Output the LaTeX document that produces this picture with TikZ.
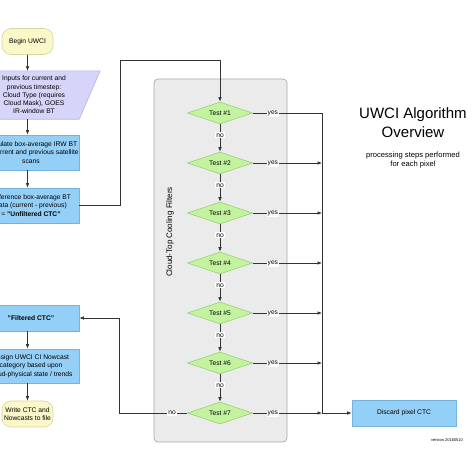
\documentclass[tikz,border=0pt]{standalone}
\usepackage{fontspec}
\setmainfont{Liberation Sans}
\usetikzlibrary{shapes.geometric,arrows.meta,calc}
\definecolor{termfill}{HTML}{FAF7C8}
\definecolor{termdraw}{HTML}{D8D49E}
\definecolor{lavfill}{HTML}{D6D4F8}
\definecolor{lavdraw}{HTML}{B4B1E4}
\definecolor{bluefill}{HTML}{94CFF7}
\definecolor{bluedraw}{HTML}{76B3DF}
\definecolor{greenfill}{HTML}{C4F3A0}
\definecolor{greendraw}{HTML}{9BCF75}
\definecolor{contfill}{HTML}{EBEBEB}
\definecolor{contdraw}{HTML}{A8A8A8}
\definecolor{linec}{HTML}{333333}
\begin{document}
\begin{tikzpicture}[x=1pt,y=-1pt,
  smalltext/.style={font=\fontsize{6.7}{8.3}\selectfont},
  terminal/.style={smalltext,draw=termdraw,fill=termfill,rounded corners=9pt,minimum width=51pt,minimum height=26pt,inner sep=1pt,align=center,line width=0.6pt},
  process/.style={smalltext,draw=bluedraw,fill=bluefill,minimum width=96pt,inner sep=1pt,align=center,line width=0.6pt},
  test/.style={smalltext,diamond,aspect=3,draw=greendraw,fill=greenfill,minimum width=65pt,minimum height=22pt,inner sep=0pt,line width=0.6pt},
  lbl/.style={smalltext,fill=white,inner sep=1pt},
  arr/.style={draw=linec,line width=0.7pt,-{Latex[length=4.5pt,width=3.6pt]}},
  ln/.style={draw=linec,line width=0.7pt}]
\useasboundingbox (0,0) rectangle (474,474);
\clip (0,0) rectangle (474,474);
% container
\node[draw=contdraw,fill=contfill,rounded corners=4pt,minimum width=133pt,minimum height=363pt,line width=0.7pt] (cont) at (220.5,260.5) {};
\node[font=\fontsize{8}{9}\selectfont,rotate=90] (contlabel) at (170,232) {Cloud-Top Cooling Filters};
% left column
\node[terminal] (begin) at (27.5,41.5) {Begin UWCI};
\node[minimum width=111pt,minimum height=48pt,inner sep=0pt] (inp) at (34,95) {};
\filldraw[fill=lavfill,draw=lavdraw,line width=0.6pt] ($(inp.north west)+(10.5,0)$) -- ($(inp.north east)+(10.5,0)$) -- ($(inp.south east)+(-10.5,0)$) -- ($(inp.south west)+(-10.5,0)$) -- cycle;
\node[smalltext,align=center] (inptext) at (inp) {Inputs for current and\\previous timestep:\\Cloud Type (requires\\Cloud Mask), GOES\\IR-window BT};
\node[process,minimum height=35pt] (calc) at (31,152.5) {Calculate box-average IRW BT\\for current and previous satellite\\scans};
\node[process,minimum height=35pt] (diff) at (31,205.5) {Difference box-average BT\\data (current - previous)\\= \textbf{"Unfiltered CTC"}};
\node[process,minimum height=26pt] (filt) at (31,318) {\textbf{"Filtered CTC"}};
\node[process,minimum height=34pt] (assign) at (31,366) {Assign UWCI CI Nowcast\\category based upon\\cloud-physical state / trends};
\node[terminal] (write) at (27.5,414) {Write CTC and\\Nowcasts to file};
\draw[arr] (begin.south) -- (begin.south |- inp.north);
\draw[arr] (begin.south |- inp.south) -- (begin.south |- calc.north);
\draw[arr] (begin.south |- calc.south) -- (begin.south |- diff.north);
\draw[arr] (begin.south |- filt.south) -- (begin.south |- assign.north);
\draw[arr] (begin.south |- assign.south) -- (write.north);
% tests
\node[test] (t1) at (220,113) {Test \#1};
\node[test] (t2) at (220,163) {Test \#2};
\node[test] (t3) at (220,213) {Test \#3};
\node[test] (t4) at (220,263) {Test \#4};
\node[test] (t5) at (220,313) {Test \#5};
\node[test] (t6) at (220,363) {Test \#6};
\node[test] (t7) at (220,413) {Test \#7};
\draw[arr] (t1.south) -- node[lbl,pos=.4]{no} (t2.north);
\draw[arr] (t2.south) -- node[lbl,pos=.4]{no} (t3.north);
\draw[arr] (t3.south) -- node[lbl,pos=.4]{no} (t4.north);
\draw[arr] (t4.south) -- node[lbl,pos=.4]{no} (t5.north);
\draw[arr] (t5.south) -- node[lbl,pos=.4]{no} (t6.north);
\draw[arr] (t6.south) -- node[lbl,pos=.4]{no} (t7.north);
% top connector
\coordinate (c1) at (120,60);
\draw[arr] (diff.east) -| (c1) -| (t1.north);
% yes bus
\coordinate (bustop) at (322,113);
\coordinate (busbot) at (322,413);
\node[process,minimum width=104pt,minimum height=26pt] (discard) at (404,413) {Discard pixel CTC};
\draw[ln] (t1.east) -- node[lbl,pos=.29]{yes} (bustop) -- (busbot);
\draw[arr] (t2.east) -- node[lbl,pos=.29]{yes} (t2.east -| bustop);
\draw[arr] (t3.east) -- node[lbl,pos=.29]{yes} (t3.east -| bustop);
\draw[arr] (t4.east) -- node[lbl,pos=.29]{yes} (t4.east -| bustop);
\draw[arr] (t5.east) -- node[lbl,pos=.29]{yes} (t5.east -| bustop);
\draw[arr] (t6.east) -- node[lbl,pos=.29]{yes} (t6.east -| bustop);
\draw[arr] (t7.east) -- node[lbl,pos=.29]{yes} (busbot);
\draw[arr] (busbot) -- (discard.west);
% no branch of test 7
\coordinate (nocorner) at (119,413);
\draw[arr] (t7.west) -- node[lbl,pos=.22]{no} (nocorner) |- (filt.east);
% title
\node[font=\fontsize{15}{19}\selectfont,align=center] (title) at (413,122.5) {UWCI Algorithm\\Overview};
\node[font=\fontsize{7.6}{8.4}\selectfont,align=center] (subtitle) at (413,160) {processing steps performed\\for each pixel};
\node[font=\fontsize{4}{5}\selectfont] (version) at (447,440) {version 20160510};
\end{tikzpicture}
\end{document}
